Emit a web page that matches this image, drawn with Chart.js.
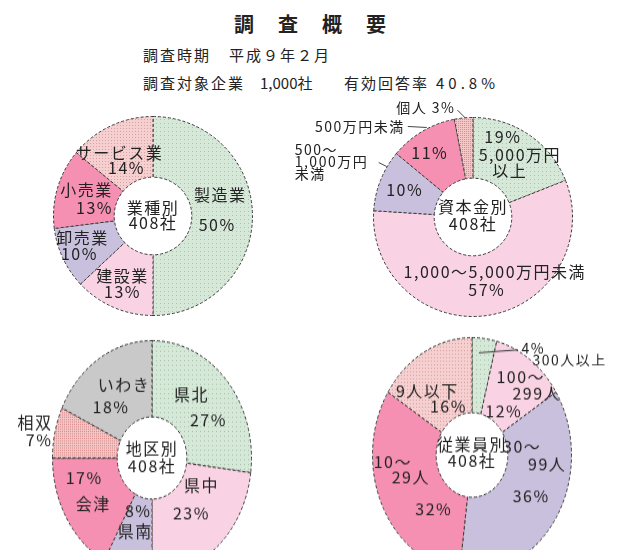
<!DOCTYPE html>
<html lang="ja">
<head>
<meta charset="utf-8">
<title>調査概要</title>
<script src="https://cdn.jsdelivr.net/npm/chart.js@4/dist/chart.umd.min.js"></script>
<style>
  html, body { margin: 0; padding: 0; background: #fff; overflow: hidden; }
  body { width: 617px; height: 550px; position: relative; font-family: "Noto Sans CJK JP", sans-serif; color: #222; }
  .head { position: absolute; white-space: pre; font-size: 15px; line-height: 20px; letter-spacing: 2px; }
  canvas { position: absolute; }
</style>
</head>
<body>
<div class="head" style="left:234px; top:12px; font-size:20px; line-height:24px; font-weight:bold; letter-spacing:24px;">調査概要</div>
<div class="head" style="left:143px; top:45px;">調査時期</div>
<div class="head" style="left:229px; top:45px;">平成９年２月</div>
<div class="head" style="left:143px; top:73px;">調査対象企業</div>
<div class="head" style="left:260px; top:73px; letter-spacing:0;">1,000社</div>
<div class="head" style="left:344px; top:73px;">有効回答率</div>
<div class="head" style="left:436px; top:73px; letter-spacing:4px;">40.8%</div>

<canvas id="industry" width="308" height="235" style="left:0px; top:95px;"></canvas>
<canvas id="capital" width="327" height="235" style="left:290px; top:95px;"></canvas>
<canvas id="area" width="308" height="230" style="left:0px; top:335px; transform:scaleY(1.18); transform-origin:152px 123px;"></canvas>
<canvas id="staff" width="309" height="235" style="left:308px; top:330px; transform:scaleY(1.18); transform-origin:164px 125px;"></canvas>

<script>
// 業種別
const industryNames = ['製造業', '建設業', '卸売業', '小売業', 'サービス業'];
const industryShares = [50, 13, 10, 13, 14];

// 資本金別
const capitalNames = ['5,000万円\n以上', '1,000～5,000万円未満', '500～\n1,000万円\n未満', '500万円未満', '個人'];
const capitalShares = [19, 57, 10, 11, 3];

// 地区別
const areaNames = ['県北', '県中', '県南', '会津', '相双', 'いわき'];
const areaShares = [27, 23, 8, 17, 7, 18];

// 従業員別
const staffNames = ['300人以上', '100～\n299人', '30～\n99人', '10～\n29人', '9人以下'];
const staffShares = [4, 12, 36, 32, 16];

function dots(base, dot, step) {
  const c = document.createElement('canvas');
  c.width = c.height = step;
  const g = c.getContext('2d');
  g.fillStyle = base;
  g.fillRect(0, 0, step, step);
  g.fillStyle = dot;
  g.fillRect(0, 0, 1, 1);
  return g.createPattern(c, 'repeat');
}

const green = dots('#d6e8d8', '#a8c4ad', 4);
const salmon = dots('#f6d0d0', '#d9a2a2', 3);
const hatch = dots('#f4c6c6', '#d88e8e', 2);
const lightPink = '#f9d3e3';
const lavender = '#c8c0dc';
const pink = '#f590b3';
const grey = '#c9c9c9';

// text on / beside each slice; offsets are screen pixels from the slice centre.
// opts.k undoes the vertical stretch of the lower two charts for the text.
const sliceText = {
  id: 'sliceText',
  afterDatasetsDraw(chart, args, opts) {
    const ctx = chart.ctx;
    const k = opts.k || 1;
    const meta = chart.getDatasetMeta(0);
    const names = chart.data.labels;
    const values = chart.data.datasets[0].data;
    const put = (text, x, y, align, size) => {
      ctx.save();
      ctx.translate(x, y);
      ctx.scale(1, 1 / k);
      ctx.font = (size || 16) + 'px "Noto Sans CJK JP"';
      ctx.textAlign = align || 'center';
      ctx.fillText(text, 0, 0);
      ctx.restore();
    };
    ctx.save();
    ctx.fillStyle = '#222';
    ctx.strokeStyle = '#444';
    ctx.lineWidth = 1;
    ctx.textBaseline = 'middle';
    ctx.letterSpacing = '1.5px';
    meta.data.forEach((arc, i) => {
      const c = arc.tooltipPosition();
      const parts = names[i].split('\n');
      (opts.lines[i] || []).forEach(([key, dx, dy, align, size]) => {
        let text;
        if (key === 'p') text = values[i] + '%';
        else if (key === 'np') text = parts.join('') + ' ' + values[i] + '%';
        else text = parts[+key.slice(1)];
        put(text, c.x + dx, c.y + dy / k, align, size);
      });
      const lead = opts.leaders && opts.leaders[i];
      if (lead) {
        ctx.beginPath();
        ctx.moveTo(c.x + lead[0], c.y + lead[1] / k);
        ctx.lineTo(c.x + lead[2], c.y + lead[3] / k);
        ctx.stroke();
      }
    });
    const mid = meta.data[0];
    opts.centre.forEach(([t, dy]) => put(t, mid.x, mid.y + dy / k));
    ctx.restore();
  }
};

function donut(id, names, shares, colours, pad, cutout, text) {
  return new Chart(document.getElementById(id), {
    type: 'doughnut',
    data: {
      labels: names,
      datasets: [{
        data: shares,
        backgroundColor: colours,
        borderColor: '#3a3a3a',
        borderWidth: 1,
        borderDash: [3, 2]
      }]
    },
    options: {
      responsive: false,
      animation: false,
      cutout: cutout,
      layout: { padding: pad },
      plugins: {
        legend: { display: false },
        tooltip: { enabled: false },
        sliceText: text
      }
    },
    plugins: [sliceText]
  });
}

donut('industry', industryNames, industryShares,
  [green, lightPink, lavender, pink, salmon],
  { left: 53, right: 55, top: 21, bottom: 14 }, '39%',
  {
    centre: [['業種別', -8], ['408社', 7]],
    lines: [
      [['n0', -2, -21], ['p', -5, 9]],
      [['n0', -3, -4], ['p', -3, 12]],
      [['n0', -8, -8], ['p', -11, 8]],
      [['n0', 0, -7], ['p', 8, 11]],
      [['n0', -4, -1], ['p', 3, 14]]
    ]
  });

donut('capital', capitalNames, capitalShares,
  [green, lightPink, lavender, pink, hatch],
  { left: 83, right: 44, top: 22, bottom: 13 }, '39%',
  {
    centre: [['資本金別', -10], ['408社', 7]],
    lines: [
      [['p', -9, -23], ['n0', 8, -5], ['n1', -2, 11]],
      [['n0', 11, -13], ['p', 3, 5]],
      [['p', -4, -2], ['n0', -114, -42, 'left', 14], ['n1', -114, -30, 'left', 14], ['n2', -114, -18, 'left', 14]],
      [['p', -8, -5], ['n0', -33, -31, 'right', 14]],
      [['np', -11, -40, 'right', 14]]
    ],
    leaders: [null, null, [-30, -29, -22, -25], [-30, -31, -11, -30], [-9, -38, -1, -30]]
  });

donut('area', areaNames, areaShares,
  [green, lightPink, lavender, pink, hatch, grey],
  { left: 52, right: 56, top: 23, bottom: 7 }, '35%',
  {
    k: 1.18,
    centre: [['地区別', -10], ['408社', 8]],
    lines: [
      [['n0', -11, -11], ['p', 6, 14]],
      [['n0', 5, -32], ['p', -5, -4]],
      [['p', 3, -24], ['n0', 0, -4]],
      [['p', -10, -21], ['n0', -1, 6]],
      [['n0', -34, -18, 'right'], ['p', -34, 0, 'right']],
      [['n0', 8, -7], ['p', -5, 16]]
    ]
  });

donut('staff', staffNames, staffShares,
  [green, lightPink, lavender, pink, salmon],
  { left: 64, right: 45, top: 25, bottom: 10 }, '36%',
  {
    k: 1.18,
    centre: [['従業員別', -11], ['408社', 6]],
    lines: [
      [['p', 41, -27, 'left', 14], ['n0', 52, -16, 'left', 14]],
      [['n0', 9, -13], ['n1', 25, 3], ['p', -8, 21]],
      [['n0', -7, -51], ['n1', 18, -34], ['p', 2, -2]],
      [['n0', -18, -27], ['n1', 0, -12], ['p', 23, 20]],
      [['n0', -12, 6], ['p', 9, 21]]
    ],
    leaders: [[-1.6, -23, 37.4, -26]]
  });
</script>
</body>
</html>
